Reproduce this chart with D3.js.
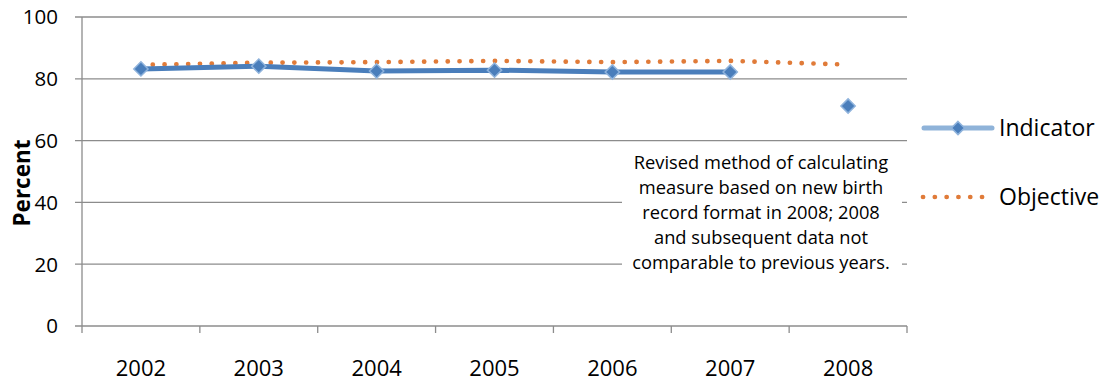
<!DOCTYPE html>
<html><head><meta charset="utf-8">
<script src="https://cdn.jsdelivr.net/npm/d3@7"></script>
<style>body{margin:0;background:#fff;} svg{display:block;font-family:"Open Sans","Noto Sans",sans-serif;}</style>
</head><body>
<svg id="c" width="1109" height="385"></svg>
<script>
const years = ["2002","2003","2004","2005","2006","2007","2008"];
const indicatorMain = [83.2, 84.1, 82.5, 82.8, 82.2, 82.2, null];
const indicator2008 = [null, null, null, null, null, null, 71.2];
const objective = [84.5, 85.2, 85.4, 85.8, 85.4, 85.8, 84.6];
const yTicks = [0, 20, 40, 60, 80, 100];
const noteLines = ["Revised method of calculating","measure based on new birth","record format in 2008; 2008","and subsequent data not","comparable to previous years."];

const svg = d3.select("#c");
const L = 82, R = 907, T = 17, B = 326;
const x = d3.scaleBand().domain(years).range([L, R]);
const y = d3.scaleLinear().domain([0, 100]).range([B, T]);
const grid = "#8c8c8c";

// gridlines
svg.append("g").selectAll("line").data(yTicks).join("line")
  .attr("x1", L - 7).attr("x2", R).attr("y1", d => y(d)).attr("y2", d => y(d))
  .attr("stroke", grid).attr("stroke-width", 1.3);
// y axis line
svg.append("line").attr("x1", L).attr("x2", L).attr("y1", T).attr("y2", B + 7)
  .attr("stroke", grid).attr("stroke-width", 1.3);
// x ticks at band boundaries
const bounds = years.map(d => x(d)).concat([R]);
svg.append("g").selectAll("line").data(bounds.slice(1)).join("line")
  .attr("x1", d => d).attr("x2", d => d).attr("y1", B).attr("y2", B + 7)
  .attr("stroke", grid).attr("stroke-width", 1.3);

// y labels
svg.append("g").selectAll("text").data(yTicks).join("text")
  .attr("x", 58).attr("y", d => y(d)).attr("dy", "0.36em")
  .attr("text-anchor", "end").attr("font-size", 20.5).attr("fill", "#000").text(d => d);
// x labels
svg.append("g").selectAll("text").data(years).join("text")
  .attr("x", d => x(d) + x.bandwidth() / 2).attr("y", 368).attr("dy", "0.36em")
  .attr("text-anchor", "middle").attr("font-size", 22).attr("fill", "#000").text(d => d);
// axis title
svg.append("text").attr("transform", `translate(30,183) rotate(-90)`)
  .attr("text-anchor", "middle").attr("font-size", 22.5).attr("font-weight", "bold").text("Percent");

// annotation box
const noteCx = 761;
svg.append("rect").attr("x", 622).attr("y", 148).attr("width", 280).attr("height", 132).attr("fill", "#fff");
svg.append("g").selectAll("text").data(noteLines).join("text")
  .attr("x", noteCx).attr("y", (d, i) => 162.5 + i * 25).attr("dy", "0.36em")
  .attr("text-anchor", "middle").attr("font-size", 18.3).attr("fill", "#000").text(d => d);

const cx = d => x(d) + x.bandwidth() / 2;

// objective dotted
const objLine = d3.line().x((d, i) => cx(years[i])).y(d => y(d));
svg.append("path").attr("d", objLine(objective)).attr("fill", "none")
  .attr("stroke", "#e07b39").attr("stroke-width", 4.7).attr("stroke-linecap", "round")
  .attr("stroke-dasharray", "0.1 11.7");

// indicator line
const indLine = d3.line().defined(d => d != null).x((d, i) => cx(years[i])).y(d => y(d));
svg.append("path").attr("d", indLine(indicatorMain)).attr("fill", "none")
  .attr("stroke", "#4a7ebb").attr("stroke-width", 5).attr("stroke-linejoin", "round");

const diamond = d3.symbol().type(d3.symbolDiamond2).size(130);
const pts = years.map((yr, i) => ({yr, v: indicatorMain[i] != null ? indicatorMain[i] : indicator2008[i]})).filter(d => d.v != null);
svg.append("g").selectAll("path").data(pts).join("path")
  .attr("d", diamond).attr("transform", d => `translate(${cx(d.yr)},${y(d.v)})`)
  .attr("fill", "#4a7ebb").attr("stroke", "#8fb3dc").attr("stroke-width", 1.5);

// legend
const lg = svg.append("g");
lg.append("line").attr("x1", 924).attr("x2", 992).attr("y1", 128).attr("y2", 128)
  .attr("stroke", "#8fb3d9").attr("stroke-width", 5).attr("stroke-linecap", "round");
lg.append("path").attr("d", d3.symbol().type(d3.symbolDiamond2).size(110)())
  .attr("transform", "translate(958,128)").attr("fill", "#4a7ebb").attr("stroke", "#8fb3dc").attr("stroke-width", 1.5);
lg.append("text").attr("x", 999).attr("y", 128).attr("dy", "0.36em").attr("font-size", 23).text("Indicator");
lg.append("line").attr("x1", 923).attr("x2", 986).attr("y1", 197).attr("y2", 197)
  .attr("stroke", "#e07b39").attr("stroke-width", 4.7).attr("stroke-linecap", "round")
  .attr("stroke-dasharray", "0.1 11.7");
lg.append("text").attr("x", 999).attr("y", 197).attr("dy", "0.36em").attr("font-size", 23).text("Objective");
</script>
</body></html>
